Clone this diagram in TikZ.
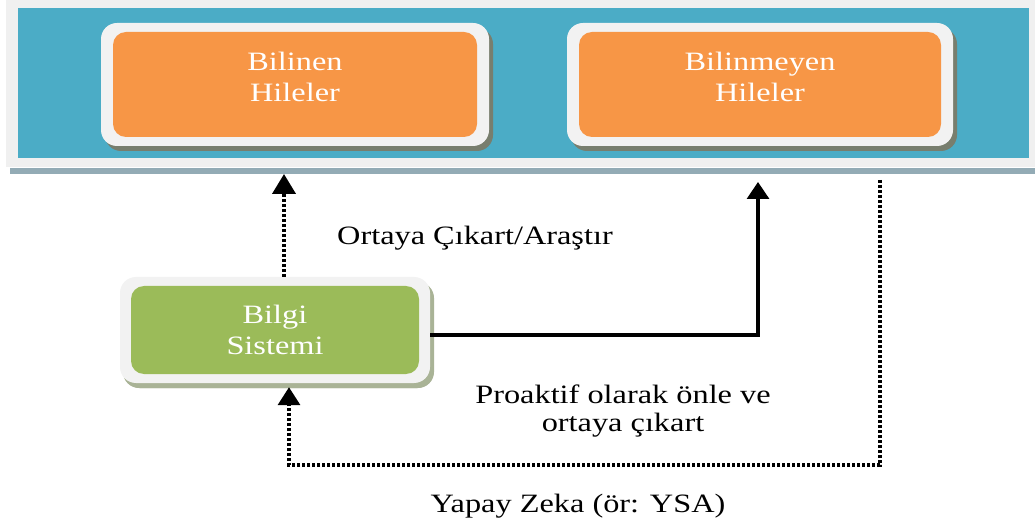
\documentclass[tikz,border=0pt]{standalone}
\usepackage{fontspec}
\setmainfont[FakeStretch=1.22]{Liberation Serif}
\usetikzlibrary{arrows.meta,shadows}
\definecolor{panelgray}{HTML}{F0F0F0}
\definecolor{bandteal}{HTML}{4BACC6}
\definecolor{barblue}{HTML}{93ABB5}
\definecolor{rimgray}{HTML}{F2F2F2}
\definecolor{boxorange}{HTML}{F79646}
\definecolor{boxgreen}{HTML}{9BBB59}
\definecolor{darkshade}{HTML}{787E6E}
\definecolor{lightshade}{HTML}{A9B396}
\begin{document}
\begin{tikzpicture}[x=1pt,y=-1pt,
  slab/.style={inner sep=0pt, outer sep=0pt, anchor=north west},
  rimbox/.style n args={3}{fill=rimgray, rounded corners=16pt, inner sep=0pt,
    minimum width=#1, minimum height=#2,
    drop shadow={shadow xshift=4pt, shadow yshift=-5pt, fill=#3, opacity=1}},
  core/.style 2 args={path picture={
    \fill[#1, rounded corners=13pt]
      ([shift={(#2,-9pt)}]path picture bounding box.north west) rectangle
      ([shift={(-#2,9pt)}]path picture bounding box.south east);}},
  boxtext/.style={text=white, align=center, font=\fontsize{26.5}{31.5}\selectfont, inner sep=0pt},
  lbl/.style={text=black, align=center, font=\fontsize{26.5}{28}\selectfont, inner sep=0pt},
  thickdot/.style={line width=4pt, dash pattern=on 3pt off 2pt,
    -{Triangle[width=23pt,length=20pt]}},
  solidarrow/.style={line width=3.2pt, -{Triangle[width=22pt,length=17pt]}},
  thindot/.style={line width=3.5pt, dash pattern=on 3pt off 2pt,
    -{Triangle[width=22pt,length=18pt]}}
]
\useasboundingbox (0,0) rectangle (1035,526);
\fill[white] (0,0) rectangle (1035,526);

% top panel with its teal band and the shadow bar underneath
\node[slab, fill=barblue, minimum width=1025pt, minimum height=6pt] (bar) at (10,168) {};
\node[slab, fill=panelgray, minimum width=1029pt, minimum height=167pt] (panel) at (6,0) {};
\node[slab, fill=bandteal, minimum width=1011pt, minimum height=150pt] (band) at (18,8) {};

% the three boxes
\node[rimbox={388pt}{123pt}{darkshade}, core={boxorange}{12pt}] (known) at (295,84.5) {};
\node[rimbox={386pt}{123pt}{darkshade}, core={boxorange}{12pt}] (unknown) at (760,84.5) {};
\node[rimbox={310pt}{106pt}{lightshade}, core={boxgreen}{11pt}, drop shadow={shadow xshift=3pt, shadow yshift=-5pt, fill=lightshade, opacity=1}] (info) at (275,330) {};

\node[boxtext] (knowntext) at (295,77) {Bilinen\\Hileler};
\node[boxtext] (unknowntext) at (760,77) {Bilinmeyen\\Hileler};
\node[boxtext] (infotext) at (275,330) {Bilgi\\Sistemi};

% connectors
\coordinate (uptip) at (758,182);
\coordinate (dstart) at (880,180);
\coordinate (dcorner) at (880,465);

\draw[thickdot] ([xshift=9pt]info.north) -- ([xshift=9pt]info.north |- bar.south);
\draw[solidarrow] ([yshift=-5pt]info.east) -| (uptip);
\draw[thindot] (dstart) -- (dcorner) -| ([xshift=14pt,yshift=-4pt]info.south);

% labels
\node[lbl] (detect) at (475,238) {Ortaya Çıkart/Araştır};
\node[lbl] (prevent) at (623,411) {Proaktif olarak önle ve\\ortaya çıkart};
\node[lbl] (ai) at (578,506) {Yapay Zeka (ör: YSA)};
\end{tikzpicture}
\end{document}
